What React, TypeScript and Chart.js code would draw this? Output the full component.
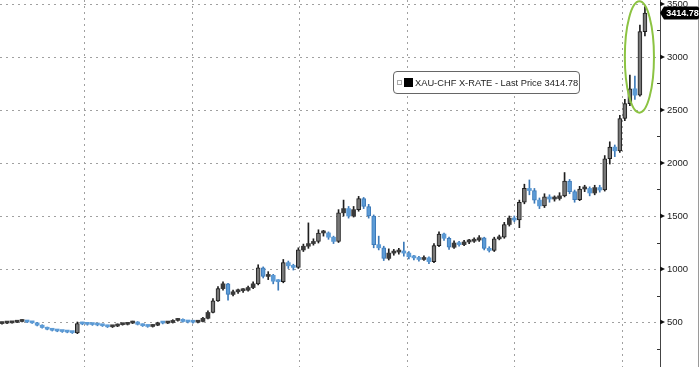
import React, { useEffect, useRef } from 'react';
import { Chart, registerables } from 'chart.js';

Chart.register(...registerables);

const SERIES_NAME = 'XAU-CHF X-RATE';
const LAST_PRICE = 3414.78;
const Y_TICKS = [500, 1000, 1500, 2000, 2500, 3000, 3500];
const Y_MINOR = [250, 750, 1250, 1750, 2250, 2750, 3250];
// vertical grid positions, in bar-index units
const GRID_X = [16.3, 37.8, 59.1, 80.6, 101.9, 123.4];

const OPEN = [
  485, 490, 492, 498, 505, 512, 500, 492, 470, 448, 432, 422, 415, 410, 405, 398,
  485, 482, 478, 476, 472, 465, 455, 462, 475, 478, 490, 500, 478, 465, 458, 470,
  492, 490, 495, 515, 525, 505, 500, 498, 505, 535, 590, 700, 815, 860, 760, 785,
  795, 800, 825, 860, 1010, 930, 940, 885, 880, 1060, 1030, 1015, 1180, 1215, 1240, 1260,
  1340, 1340, 1300, 1260, 1530, 1570, 1500, 1560, 1665, 1590, 1500, 1230, 1200, 1100, 1150, 1160,
  1170, 1150, 1115, 1105, 1090, 1105, 1070, 1220, 1330, 1290, 1205, 1245, 1230, 1255, 1262, 1273,
  1295, 1195, 1175, 1285, 1300, 1420, 1480, 1462, 1630, 1760, 1740, 1650, 1595, 1680, 1660, 1665,
  1690, 1830, 1730, 1655, 1755, 1760, 1717, 1768, 1745, 2040, 2150, 2115, 2420, 2560, 2700, 2640,
  3240,
];
const CLOSE = [
  490, 492, 498, 505, 512, 500, 492, 470, 448, 432, 422, 415, 410, 405, 400, 485,
  482, 478, 476, 472, 465, 455, 462, 475, 478, 490, 500, 478, 465, 458, 470, 492,
  490, 495, 515, 525, 505, 500, 498, 505, 535, 590, 700, 815, 860, 760, 785, 795,
  800, 825, 860, 1010, 930, 940, 885, 880, 1060, 1030, 1015, 1180, 1215, 1240, 1260, 1340,
  1340, 1300, 1260, 1530, 1570, 1500, 1560, 1665, 1590, 1500, 1230, 1200, 1100, 1150, 1160, 1170,
  1150, 1115, 1105, 1090, 1105, 1070, 1220, 1330, 1290, 1205, 1245, 1230, 1255, 1262, 1273, 1295,
  1195, 1175, 1285, 1300, 1420, 1480, 1462, 1630, 1760, 1740, 1650, 1595, 1680, 1660, 1665, 1690,
  1830, 1730, 1655, 1755, 1760, 1717, 1768, 1745, 2040, 2150, 2115, 2420, 2560, 2700, 2640, 3240,
  3415,
];
const HIGH = [
  500, 500, 506, 515, 522, 516, 504, 496, 474, 452, 438, 428, 420, 416, 412, 500,
  498, 490, 488, 484, 478, 470, 468, 482, 486, 496, 508, 504, 482, 472, 476, 498,
  500, 504, 522, 534, 530, 512, 508, 512, 545, 605, 720, 835, 880, 865, 800, 810,
  815, 840, 880, 1040, 1020, 975, 950, 900, 1090, 1075, 1045, 1200, 1235, 1435, 1285, 1370,
  1365, 1350, 1310, 1560, 1650, 1590, 1590, 1685, 1675, 1610, 1510, 1310, 1215, 1190, 1185, 1195,
  1255, 1165, 1130, 1120, 1125, 1115, 1240, 1350, 1340, 1300, 1265, 1260, 1270, 1280, 1295, 1315,
  1300, 1210, 1300, 1320, 1440, 1500, 1500, 1650, 1800, 1840, 1760, 1670, 1710, 1700, 1690, 1720,
  1910, 1845, 1745, 1780, 1790, 1775, 1790, 1790, 2070, 2200, 2170, 2450, 2600, 2830, 2820, 3300,
  3475,
];
const LOW = [
  480, 484, 488, 494, 500, 494, 486, 464, 442, 426, 415, 408, 402, 398, 392, 390,
  474, 470, 468, 464, 458, 448, 448, 456, 470, 472, 485, 472, 458, 450, 452, 465,
  482, 485, 490, 508, 498, 492, 490, 492, 500, 530, 585, 695, 800, 705, 745, 770,
  780, 790, 815, 850, 915, 900, 860, 800, 870, 1005, 990, 1005, 1165, 1195, 1225, 1245,
  1310, 1280, 1240, 1250, 1500, 1480, 1490, 1545, 1570, 1480, 1200, 1180, 1080, 1085, 1130, 1140,
  1120, 1095, 1085, 1075, 1080, 1050, 1060, 1210, 1270, 1185, 1195, 1215, 1220, 1240, 1250, 1260,
  1180, 1160, 1165, 1275, 1290, 1405, 1445, 1390, 1615, 1700, 1620, 1570, 1580, 1630, 1640, 1650,
  1680, 1710, 1630, 1645, 1730, 1690, 1700, 1725, 1735, 1990, 2060, 2100, 2400, 2540, 2600, 2630,
  3200,
];

// highlight ellipse (in bar-index / price units)
const HIGHLIGHT = { centerBar: 126.9, centerPrice: 3000, halfBars: 2.9, halfPrice: 525 };

const UP_BODY = '#777777';
const UP_EDGE = '#1e1e1e';
const DN_BODY = '#5c9bd6';
const DN_EDGE = '#3d7ab9';
const FONT = '"Liberation Sans", Arial, sans-serif';

export default function App() {
  const ref = useRef<HTMLCanvasElement | null>(null);

  useEffect(() => {
    const canvas = ref.current;
    if (!canvas) return;
    const up = CLOSE.map((c, i) => c >= OPEN[i]);
    const tall = CLOSE.map((c, i) => Math.abs(c - OPEN[i]) > 70);

    const decor = {
      id: 'decor',
      beforeDatasetsDraw(chart: any) {
        const { ctx, chartArea, scales } = chart;
        const x = scales.x;
        const y = scales.y;
        ctx.save();
        ctx.strokeStyle = '#a0a0a0';
        ctx.lineWidth = 1;
        ctx.setLineDash([2, 4]);
        for (const v of Y_TICKS) {
          const py = Math.round(y.getPixelForValue(v)) + 0.5;
          ctx.beginPath();
          ctx.moveTo(chartArea.left, py);
          ctx.lineTo(chartArea.right, py);
          ctx.stroke();
        }
        for (const v of GRID_X) {
          const px = Math.round(x.getPixelForValue(v)) + 0.5;
          ctx.beginPath();
          ctx.moveTo(px, 0);
          ctx.lineTo(px, chart.height);
          ctx.stroke();
        }
        ctx.restore();
      },
      afterDraw(chart: any) {
        const { ctx, chartArea, scales } = chart;
        const x = scales.x;
        const y = scales.y;
        const axisX = chartArea.right;
        ctx.save();
        // right border
        ctx.strokeStyle = '#9a9a9a';
        ctx.lineWidth = 1;
        ctx.beginPath();
        ctx.moveTo(chart.width - 1.5, 0);
        ctx.lineTo(chart.width - 1.5, chart.height);
        ctx.stroke();
        // major tick markers
        ctx.fillStyle = '#111';
        for (const v of Y_TICKS) {
          const py = y.getPixelForValue(v);
          ctx.beginPath();
          ctx.moveTo(axisX, py - 2.5);
          ctx.lineTo(axisX + 5, py);
          ctx.lineTo(axisX, py + 2.5);
          ctx.closePath();
          ctx.fill();
        }
        ctx.strokeStyle = '#333';
        for (const v of Y_MINOR) {
          const py = Math.round(y.getPixelForValue(v)) + 0.5;
          ctx.beginPath();
          ctx.moveTo(axisX - 3, py);
          ctx.lineTo(axisX, py);
          ctx.stroke();
        }
        // last price label
        const ly = y.getPixelForValue(LAST_PRICE);
        const l = axisX + 4;
        const r = chart.width - 1;
        const h = 13;
        ctx.fillStyle = '#000';
        ctx.beginPath();
        ctx.moveTo(axisX, ly);
        ctx.lineTo(l, ly - h / 2);
        ctx.lineTo(r - 2, ly - h / 2);
        ctx.quadraticCurveTo(r, ly - h / 2, r, ly - h / 2 + 2);
        ctx.lineTo(r, ly + h / 2 - 2);
        ctx.quadraticCurveTo(r, ly + h / 2, r - 2, ly + h / 2);
        ctx.lineTo(l, ly + h / 2);
        ctx.closePath();
        ctx.fill();
        ctx.fillStyle = '#fff';
        ctx.font = `bold 9px ${FONT}`;
        ctx.textAlign = 'center';
        ctx.textBaseline = 'middle';
        ctx.fillText(LAST_PRICE.toFixed(2), (l + r) / 2 + 1, ly + 0.5);
        // highlight ellipse
        const cx = x.getPixelForValue(HIGHLIGHT.centerBar);
        const cy = y.getPixelForValue(HIGHLIGHT.centerPrice);
        const rx = Math.abs(x.getPixelForValue(HIGHLIGHT.centerBar + HIGHLIGHT.halfBars) - cx);
        const ry = Math.abs(y.getPixelForValue(HIGHLIGHT.centerPrice + HIGHLIGHT.halfPrice) - cy);
        ctx.strokeStyle = '#8cc342';
        ctx.lineWidth = 2;
        ctx.beginPath();
        ctx.ellipse(cx, cy, rx, ry, 0, 0, Math.PI * 2);
        ctx.stroke();
        ctx.restore();
      },
    };

    const chart = new Chart(canvas, {
      type: 'bar',
      data: {
        datasets: [
          {
            label: 'wick',
            data: CLOSE.map((_, i) => ({ x: i, y: [LOW[i], HIGH[i]] })) as any,
            backgroundColor: up.map((u) => (u ? UP_EDGE : DN_EDGE)),
            barThickness: 1,
            grouped: false,
            order: 2,
          } as any,
          {
            label: 'body',
            data: CLOSE.map((c, i) => ({ x: i, y: [OPEN[i], c] })) as any,
            backgroundColor: up.map((u, i) => (u ? (tall[i] ? UP_BODY : '#3a3a3a') : DN_BODY)),
            borderColor: up.map((u) => (u ? UP_EDGE : DN_EDGE)),
            borderWidth: tall.map((t) => (t ? 1 : 0)),
            borderSkipped: false,
            barThickness: 4,
            minBarLength: 2,
            grouped: false,
            order: 1,
          } as any,
        ],
      },
      options: {
        animation: false,
        responsive: false,
        devicePixelRatio: 1,
        layout: { padding: 0 },
        plugins: { legend: { display: false }, tooltip: { enabled: false } },
        scales: {
          x: {
            type: 'linear',
            min: -0.4,
            max: 131,
            offset: false,
            display: false,
          },
          y: {
            position: 'right',
            min: 75.5,
            max: 3537.7,
            grid: { display: false, drawTicks: false },
            border: { display: true, color: '#444', width: 1 },
            ticks: {
              padding: 7,
              color: '#222',
              font: { family: FONT, size: 9.5, lineHeight: 0.1 },
              callback: (v: any) => String(v),
            },
            afterBuildTicks: (s: any) => {
              s.ticks = Y_TICKS.map((v) => ({ value: v }));
            },
            afterFit: (s: any) => {
              s.width = 40;
              s.paddingTop = 0;
              s.paddingBottom = 0;
            },
          } as any,
        },
      },
      plugins: [decor],
    });
    return () => chart.destroy();
  }, []);

  return (
    <div style={{ position: 'fixed', left: 0, top: 0, width: 700, height: 367, background: '#fff' }}>
      <canvas ref={ref} width={700} height={367} />
      <div
        style={{
          position: 'absolute',
          left: 393,
          top: 71,
          width: 187,
          height: 23,
          boxSizing: 'border-box',
          border: '1px solid #666',
          borderRadius: 4,
          background: '#fff',
          display: 'flex',
          alignItems: 'center',
          fontFamily: FONT,
          fontSize: 9.3,
          color: '#222',
          whiteSpace: 'nowrap',
        }}
      >
        <span style={{ width: 3, height: 3, border: '1px solid #aaa', marginLeft: 3, display: 'inline-block' }} />
        <span style={{ width: 9, height: 9, background: '#000', marginLeft: 2, marginRight: 2, display: 'inline-block' }} />
        <span>{`${SERIES_NAME} - Last Price ${LAST_PRICE}`}</span>
      </div>
    </div>
  );
}
